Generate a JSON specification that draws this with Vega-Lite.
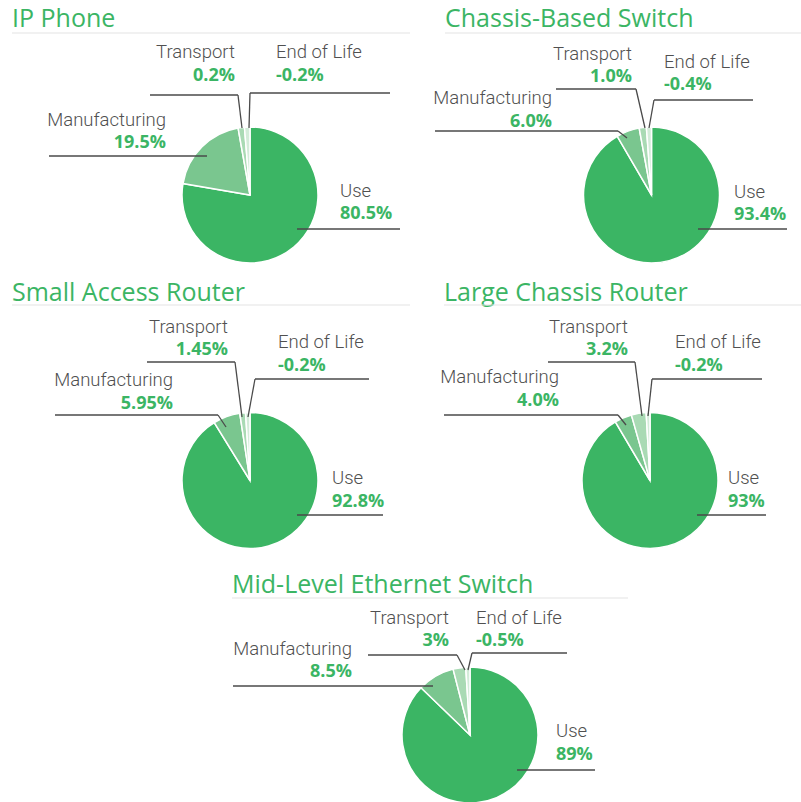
{
"$schema":"https://vega.github.io/schema/vega-lite/v6.json",
"width":801,"height":802,"padding":0,"autosize":{"type":"none"},"background":"white",
"config":{"view":{"stroke":null},"axis":{"disable":true},
"style":{
"nm":{"font":"Roboto","fontSize":18.5,"fontWeight":300,"color":"#505050","baseline":"alphabetic"},
"val":{"font":"Open Sans","fontSize":18,"fontWeight":"bold","color":"#3bb564","baseline":"alphabetic"},
"ttl":{"font":"Open Sans","fontSize":25,"fontWeight":400,"color":"#3bb564","baseline":"alphabetic","align":"left"},
"lead":{"color":"#4a4a4a","strokeWidth":1.3},
"uline":{"color":"#e3e3e3","strokeWidth":1.2}
}},
"data":{"values":[
{"device":"IP Phone","category":"Use","seq":1,"value":80.5,"label":"80.5%","share":77.7},
{"device":"IP Phone","category":"Manufacturing","seq":2,"value":19.5,"label":"19.5%","share":19.5},
{"device":"IP Phone","category":"Transport","seq":3,"value":0.2,"label":"0.2%","share":1.5},
{"device":"IP Phone","category":"End of Life","seq":4,"value":-0.2,"label":"-0.2%","share":1.3},
{"device":"Chassis-Based Switch","category":"Use","seq":1,"value":93.4,"label":"93.4%","share":91.6},
{"device":"Chassis-Based Switch","category":"Manufacturing","seq":2,"value":6.0,"label":"6.0%","share":5.5},
{"device":"Chassis-Based Switch","category":"Transport","seq":3,"value":1.0,"label":"1.0%","share":1.7},
{"device":"Chassis-Based Switch","category":"End of Life","seq":4,"value":-0.4,"label":"-0.4%","share":1.2},
{"device":"Small Access Router","category":"Use","seq":1,"value":92.8,"label":"92.8%","share":91.2},
{"device":"Small Access Router","category":"Manufacturing","seq":2,"value":5.95,"label":"5.95%","share":6.4},
{"device":"Small Access Router","category":"Transport","seq":3,"value":1.45,"label":"1.45%","share":1.35},
{"device":"Small Access Router","category":"End of Life","seq":4,"value":-0.2,"label":"-0.2%","share":1.05},
{"device":"Large Chassis Router","category":"Use","seq":1,"value":93,"label":"93%","share":91.5},
{"device":"Large Chassis Router","category":"Manufacturing","seq":2,"value":4.0,"label":"4.0%","share":4.1},
{"device":"Large Chassis Router","category":"Transport","seq":3,"value":3.2,"label":"3.2%","share":3.5},
{"device":"Large Chassis Router","category":"End of Life","seq":4,"value":-0.2,"label":"-0.2%","share":0.9},
{"device":"Mid-Level Ethernet Switch","category":"Use","seq":1,"value":89,"label":"89%","share":87.2},
{"device":"Mid-Level Ethernet Switch","category":"Manufacturing","seq":2,"value":8.5,"label":"8.5%","share":8.8},
{"device":"Mid-Level Ethernet Switch","category":"Transport","seq":3,"value":3,"label":"3%","share":3.0},
{"device":"Mid-Level Ethernet Switch","category":"End of Life","seq":4,"value":-0.5,"label":"-0.5%","share":1.0}
]},
"layer":[
{"transform":[{"filter":"datum.device==='IP Phone'"}],"layer":[
{"mark":{"type":"arc","outerRadius":68,"stroke":"white","strokeWidth":1.5},"encoding":{"x":{"datum":250,"type":"quantitative","scale":{"domain":[0,801],"nice":false,"zero":false}},"y":{"datum":195,"type":"quantitative","scale":{"domain":[0,802],"nice":false,"zero":false,"reverse":true}},"theta":{"field":"share","type":"quantitative","stack":"normalize"},"order":{"field":"seq","type":"quantitative"},"color":{"field":"category","type":"nominal","scale":{"domain":["Use","Manufacturing","Transport","End of Life"],"range":["#3bb564","#7ac68f","#a9dab4","#d3ecd9"]},"legend":null}}},
{"transform":[{"filter":"datum.category==='Use'"}],"layer":[
{"mark":{"type":"text","style":"ttl"},"encoding":{"x":{"datum":12},"y":{"datum":27},"text":{"field":"device"}}},
{"mark":{"type":"rule","style":"uline"},"encoding":{"x":{"datum":12},"x2":{"datum":410},"y":{"datum":33}}},
{"mark":{"type":"rule","style":"lead"},"encoding":{"x":{"datum":150},"x2":{"datum":238},"y":{"datum":95}}},
{"mark":{"type":"rule","style":"lead"},"encoding":{"x":{"datum":238},"x2":{"datum":242},"y":{"datum":95},"y2":{"datum":128}}},
{"mark":{"type":"rule","style":"lead"},"encoding":{"x":{"datum":249},"x2":{"datum":250},"y":{"datum":128},"y2":{"datum":93}}},
{"mark":{"type":"rule","style":"lead"},"encoding":{"x":{"datum":250},"x2":{"datum":390},"y":{"datum":93}}},
{"mark":{"type":"rule","style":"lead"},"encoding":{"x":{"datum":49},"x2":{"datum":207},"y":{"datum":156}}},
{"mark":{"type":"rule","style":"lead"},"encoding":{"x":{"datum":297},"x2":{"datum":400},"y":{"datum":229}}},
{"mark":{"type":"text","style":"nm","align":"left"},"encoding":{"x":{"datum":340},"y":{"datum":197},"text":{"field":"category"}}},
{"mark":{"type":"text","style":"val","align":"left"},"encoding":{"x":{"datum":340},"y":{"datum":219},"text":{"field":"label"}}}
]},
{"transform":[{"filter":"datum.category==='Transport'"}],"layer":[
{"mark":{"type":"text","style":"nm","align":"right"},"encoding":{"x":{"datum":235},"y":{"datum":58},"text":{"field":"category"}}},
{"mark":{"type":"text","style":"val","align":"right"},"encoding":{"x":{"datum":235},"y":{"datum":81},"text":{"field":"label"}}}
]},
{"transform":[{"filter":"datum.category==='End of Life'"}],"layer":[
{"mark":{"type":"text","style":"nm","align":"left"},"encoding":{"x":{"datum":276},"y":{"datum":58},"text":{"field":"category"}}},
{"mark":{"type":"text","style":"val","align":"left"},"encoding":{"x":{"datum":276},"y":{"datum":81},"text":{"field":"label"}}}
]},
{"transform":[{"filter":"datum.category==='Manufacturing'"}],"layer":[
{"mark":{"type":"text","style":"nm","align":"right"},"encoding":{"x":{"datum":166},"y":{"datum":126},"text":{"field":"category"}}},
{"mark":{"type":"text","style":"val","align":"right"},"encoding":{"x":{"datum":166},"y":{"datum":148},"text":{"field":"label"}}}
]}
]},
{"transform":[{"filter":"datum.device==='Chassis-Based Switch'"}],"layer":[
{"mark":{"type":"arc","outerRadius":68,"stroke":"white","strokeWidth":1.5},"encoding":{"x":{"datum":651.5},"y":{"datum":195},"theta":{"field":"share","type":"quantitative","stack":"normalize"},"order":{"field":"seq","type":"quantitative"},"color":{"field":"category","type":"nominal","legend":null}}},
{"transform":[{"filter":"datum.category==='Use'"}],"layer":[
{"mark":{"type":"text","style":"ttl"},"encoding":{"x":{"datum":445},"y":{"datum":27},"text":{"field":"device"}}},
{"mark":{"type":"rule","style":"uline"},"encoding":{"x":{"datum":445},"x2":{"datum":801},"y":{"datum":33}}},
{"mark":{"type":"rule","style":"lead"},"encoding":{"x":{"datum":556},"x2":{"datum":636},"y":{"datum":89}}},
{"mark":{"type":"rule","style":"lead"},"encoding":{"x":{"datum":636},"x2":{"datum":645},"y":{"datum":89},"y2":{"datum":128}}},
{"mark":{"type":"rule","style":"lead"},"encoding":{"x":{"datum":649},"x2":{"datum":654},"y":{"datum":128},"y2":{"datum":100}}},
{"mark":{"type":"rule","style":"lead"},"encoding":{"x":{"datum":654},"x2":{"datum":753},"y":{"datum":100}}},
{"mark":{"type":"rule","style":"lead"},"encoding":{"x":{"datum":435},"x2":{"datum":618},"y":{"datum":131}}},
{"mark":{"type":"rule","style":"lead"},"encoding":{"x":{"datum":618},"x2":{"datum":627},"y":{"datum":131},"y2":{"datum":138}}},
{"mark":{"type":"rule","style":"lead"},"encoding":{"x":{"datum":698},"x2":{"datum":787},"y":{"datum":229}}},
{"mark":{"type":"text","style":"nm","align":"left"},"encoding":{"x":{"datum":734},"y":{"datum":198},"text":{"field":"category"}}},
{"mark":{"type":"text","style":"val","align":"left"},"encoding":{"x":{"datum":734},"y":{"datum":220},"text":{"field":"label"}}}
]},
{"transform":[{"filter":"datum.category==='Transport'"}],"layer":[
{"mark":{"type":"text","style":"nm","align":"right"},"encoding":{"x":{"datum":632},"y":{"datum":60},"text":{"field":"category"}}},
{"mark":{"type":"text","style":"val","align":"right"},"encoding":{"x":{"datum":632},"y":{"datum":82},"text":{"field":"label"}}}
]},
{"transform":[{"filter":"datum.category==='End of Life'"}],"layer":[
{"mark":{"type":"text","style":"nm","align":"left"},"encoding":{"x":{"datum":664},"y":{"datum":68},"text":{"field":"category"}}},
{"mark":{"type":"text","style":"val","align":"left"},"encoding":{"x":{"datum":664},"y":{"datum":90},"text":{"field":"label"}}}
]},
{"transform":[{"filter":"datum.category==='Manufacturing'"}],"layer":[
{"mark":{"type":"text","style":"nm","align":"right"},"encoding":{"x":{"datum":552},"y":{"datum":104},"text":{"field":"category"}}},
{"mark":{"type":"text","style":"val","align":"right"},"encoding":{"x":{"datum":552},"y":{"datum":127},"text":{"field":"label"}}}
]}
]},
{"transform":[{"filter":"datum.device==='Small Access Router'"}],"layer":[
{"mark":{"type":"arc","outerRadius":68,"stroke":"white","strokeWidth":1.5},"encoding":{"x":{"datum":250},"y":{"datum":480.5},"theta":{"field":"share","type":"quantitative","stack":"normalize"},"order":{"field":"seq","type":"quantitative"},"color":{"field":"category","type":"nominal","legend":null}}},
{"transform":[{"filter":"datum.category==='Use'"}],"layer":[
{"mark":{"type":"text","style":"ttl"},"encoding":{"x":{"datum":12},"y":{"datum":301},"text":{"field":"device"}}},
{"mark":{"type":"rule","style":"uline"},"encoding":{"x":{"datum":12},"x2":{"datum":410},"y":{"datum":305}}},
{"mark":{"type":"rule","style":"lead"},"encoding":{"x":{"datum":147},"x2":{"datum":235},"y":{"datum":362}}},
{"mark":{"type":"rule","style":"lead"},"encoding":{"x":{"datum":235},"x2":{"datum":242},"y":{"datum":362},"y2":{"datum":417}}},
{"mark":{"type":"rule","style":"lead"},"encoding":{"x":{"datum":248},"x2":{"datum":255},"y":{"datum":417},"y2":{"datum":379}}},
{"mark":{"type":"rule","style":"lead"},"encoding":{"x":{"datum":255},"x2":{"datum":369},"y":{"datum":379}}},
{"mark":{"type":"rule","style":"lead"},"encoding":{"x":{"datum":55},"x2":{"datum":218},"y":{"datum":415}}},
{"mark":{"type":"rule","style":"lead"},"encoding":{"x":{"datum":218},"x2":{"datum":226},"y":{"datum":415},"y2":{"datum":427}}},
{"mark":{"type":"rule","style":"lead"},"encoding":{"x":{"datum":297},"x2":{"datum":383},"y":{"datum":515}}},
{"mark":{"type":"text","style":"nm","align":"left"},"encoding":{"x":{"datum":332},"y":{"datum":484},"text":{"field":"category"}}},
{"mark":{"type":"text","style":"val","align":"left"},"encoding":{"x":{"datum":332},"y":{"datum":507},"text":{"field":"label"}}}
]},
{"transform":[{"filter":"datum.category==='Transport'"}],"layer":[
{"mark":{"type":"text","style":"nm","align":"right"},"encoding":{"x":{"datum":228},"y":{"datum":333},"text":{"field":"category"}}},
{"mark":{"type":"text","style":"val","align":"right"},"encoding":{"x":{"datum":228},"y":{"datum":355},"text":{"field":"label"}}}
]},
{"transform":[{"filter":"datum.category==='End of Life'"}],"layer":[
{"mark":{"type":"text","style":"nm","align":"left"},"encoding":{"x":{"datum":278},"y":{"datum":348},"text":{"field":"category"}}},
{"mark":{"type":"text","style":"val","align":"left"},"encoding":{"x":{"datum":278},"y":{"datum":371},"text":{"field":"label"}}}
]},
{"transform":[{"filter":"datum.category==='Manufacturing'"}],"layer":[
{"mark":{"type":"text","style":"nm","align":"right"},"encoding":{"x":{"datum":173},"y":{"datum":386},"text":{"field":"category"}}},
{"mark":{"type":"text","style":"val","align":"right"},"encoding":{"x":{"datum":173},"y":{"datum":409},"text":{"field":"label"}}}
]}
]},
{"transform":[{"filter":"datum.device==='Large Chassis Router'"}],"layer":[
{"mark":{"type":"arc","outerRadius":68,"stroke":"white","strokeWidth":1.5},"encoding":{"x":{"datum":650},"y":{"datum":480.5},"theta":{"field":"share","type":"quantitative","stack":"normalize"},"order":{"field":"seq","type":"quantitative"},"color":{"field":"category","type":"nominal","legend":null}}},
{"transform":[{"filter":"datum.category==='Use'"}],"layer":[
{"mark":{"type":"text","style":"ttl"},"encoding":{"x":{"datum":444},"y":{"datum":301},"text":{"field":"device"}}},
{"mark":{"type":"rule","style":"uline"},"encoding":{"x":{"datum":444},"x2":{"datum":801},"y":{"datum":305}}},
{"mark":{"type":"rule","style":"lead"},"encoding":{"x":{"datum":548},"x2":{"datum":635},"y":{"datum":362}}},
{"mark":{"type":"rule","style":"lead"},"encoding":{"x":{"datum":635},"x2":{"datum":642},"y":{"datum":362},"y2":{"datum":416}}},
{"mark":{"type":"rule","style":"lead"},"encoding":{"x":{"datum":648},"x2":{"datum":652},"y":{"datum":416},"y2":{"datum":379}}},
{"mark":{"type":"rule","style":"lead"},"encoding":{"x":{"datum":652},"x2":{"datum":762},"y":{"datum":379}}},
{"mark":{"type":"rule","style":"lead"},"encoding":{"x":{"datum":444},"x2":{"datum":618},"y":{"datum":415}}},
{"mark":{"type":"rule","style":"lead"},"encoding":{"x":{"datum":618},"x2":{"datum":626},"y":{"datum":415},"y2":{"datum":425}}},
{"mark":{"type":"rule","style":"lead"},"encoding":{"x":{"datum":697},"x2":{"datum":766},"y":{"datum":515}}},
{"mark":{"type":"text","style":"nm","align":"left"},"encoding":{"x":{"datum":728},"y":{"datum":484},"text":{"field":"category"}}},
{"mark":{"type":"text","style":"val","align":"left"},"encoding":{"x":{"datum":728},"y":{"datum":507},"text":{"field":"label"}}}
]},
{"transform":[{"filter":"datum.category==='Transport'"}],"layer":[
{"mark":{"type":"text","style":"nm","align":"right"},"encoding":{"x":{"datum":628},"y":{"datum":333},"text":{"field":"category"}}},
{"mark":{"type":"text","style":"val","align":"right"},"encoding":{"x":{"datum":628},"y":{"datum":355},"text":{"field":"label"}}}
]},
{"transform":[{"filter":"datum.category==='End of Life'"}],"layer":[
{"mark":{"type":"text","style":"nm","align":"left"},"encoding":{"x":{"datum":675},"y":{"datum":348},"text":{"field":"category"}}},
{"mark":{"type":"text","style":"val","align":"left"},"encoding":{"x":{"datum":675},"y":{"datum":371},"text":{"field":"label"}}}
]},
{"transform":[{"filter":"datum.category==='Manufacturing'"}],"layer":[
{"mark":{"type":"text","style":"nm","align":"right"},"encoding":{"x":{"datum":559},"y":{"datum":383},"text":{"field":"category"}}},
{"mark":{"type":"text","style":"val","align":"right"},"encoding":{"x":{"datum":559},"y":{"datum":406},"text":{"field":"label"}}}
]}
]},
{"transform":[{"filter":"datum.device==='Mid-Level Ethernet Switch'"}],"layer":[
{"mark":{"type":"arc","outerRadius":68,"stroke":"white","strokeWidth":1.5},"encoding":{"x":{"datum":470},"y":{"datum":735},"theta":{"field":"share","type":"quantitative","stack":"normalize"},"order":{"field":"seq","type":"quantitative"},"color":{"field":"category","type":"nominal","legend":null}}},
{"transform":[{"filter":"datum.category==='Use'"}],"layer":[
{"mark":{"type":"text","style":"ttl"},"encoding":{"x":{"datum":232},"y":{"datum":593},"text":{"field":"device"}}},
{"mark":{"type":"rule","style":"uline"},"encoding":{"x":{"datum":232},"x2":{"datum":628},"y":{"datum":598}}},
{"mark":{"type":"rule","style":"lead"},"encoding":{"x":{"datum":368},"x2":{"datum":457},"y":{"datum":655}}},
{"mark":{"type":"rule","style":"lead"},"encoding":{"x":{"datum":457},"x2":{"datum":465},"y":{"datum":655},"y2":{"datum":670}}},
{"mark":{"type":"rule","style":"lead"},"encoding":{"x":{"datum":468},"x2":{"datum":472},"y":{"datum":670},"y2":{"datum":653}}},
{"mark":{"type":"rule","style":"lead"},"encoding":{"x":{"datum":472},"x2":{"datum":567},"y":{"datum":653}}},
{"mark":{"type":"rule","style":"lead"},"encoding":{"x":{"datum":233},"x2":{"datum":433},"y":{"datum":686}}},
{"mark":{"type":"rule","style":"lead"},"encoding":{"x":{"datum":517},"x2":{"datum":595},"y":{"datum":770}}},
{"mark":{"type":"text","style":"nm","align":"left"},"encoding":{"x":{"datum":556},"y":{"datum":737},"text":{"field":"category"}}},
{"mark":{"type":"text","style":"val","align":"left"},"encoding":{"x":{"datum":556},"y":{"datum":760},"text":{"field":"label"}}}
]},
{"transform":[{"filter":"datum.category==='Transport'"}],"layer":[
{"mark":{"type":"text","style":"nm","align":"right"},"encoding":{"x":{"datum":449},"y":{"datum":624},"text":{"field":"category"}}},
{"mark":{"type":"text","style":"val","align":"right"},"encoding":{"x":{"datum":449},"y":{"datum":646},"text":{"field":"label"}}}
]},
{"transform":[{"filter":"datum.category==='End of Life'"}],"layer":[
{"mark":{"type":"text","style":"nm","align":"left"},"encoding":{"x":{"datum":476},"y":{"datum":624},"text":{"field":"category"}}},
{"mark":{"type":"text","style":"val","align":"left"},"encoding":{"x":{"datum":476},"y":{"datum":646},"text":{"field":"label"}}}
]},
{"transform":[{"filter":"datum.category==='Manufacturing'"}],"layer":[
{"mark":{"type":"text","style":"nm","align":"right"},"encoding":{"x":{"datum":352},"y":{"datum":655},"text":{"field":"category"}}},
{"mark":{"type":"text","style":"val","align":"right"},"encoding":{"x":{"datum":352},"y":{"datum":677},"text":{"field":"label"}}}
]}
]}
]
}
